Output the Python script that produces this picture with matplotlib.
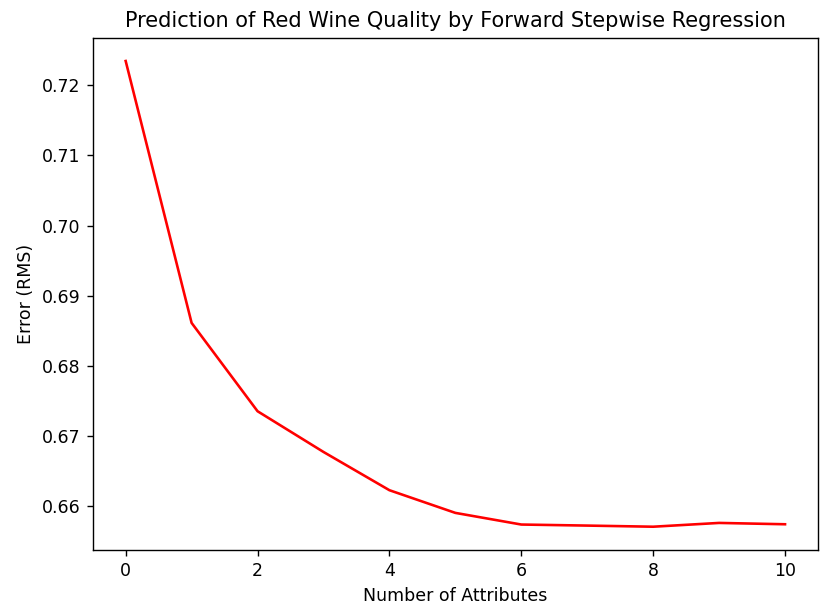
import matplotlib
matplotlib.use("Agg")
import matplotlib.pyplot as plt

n_attributes = [0, 1, 2, 3, 4, 5, 6, 7, 8, 9, 10]
rms_error = [0.72345, 0.68614, 0.67356, 0.66776, 0.66231, 0.65908,
             0.65742, 0.65727, 0.65711, 0.65765, 0.65746]

fig = plt.figure(figsize=(829 / 125, 610 / 125), dpi=125)
ax = fig.add_axes([92.7 / 829, 1 - 550 / 610, (818 - 92.7) / 829, (550 - 37.7) / 610])
ax.plot(n_attributes, rms_error, color="red")
ax.set_title("Prediction of Red Wine Quality by Forward Stepwise Regression")
ax.set_xlabel("Number of Attributes")
ax.set_ylabel("Error (RMS)")
fig.savefig("out.png", dpi=125)
